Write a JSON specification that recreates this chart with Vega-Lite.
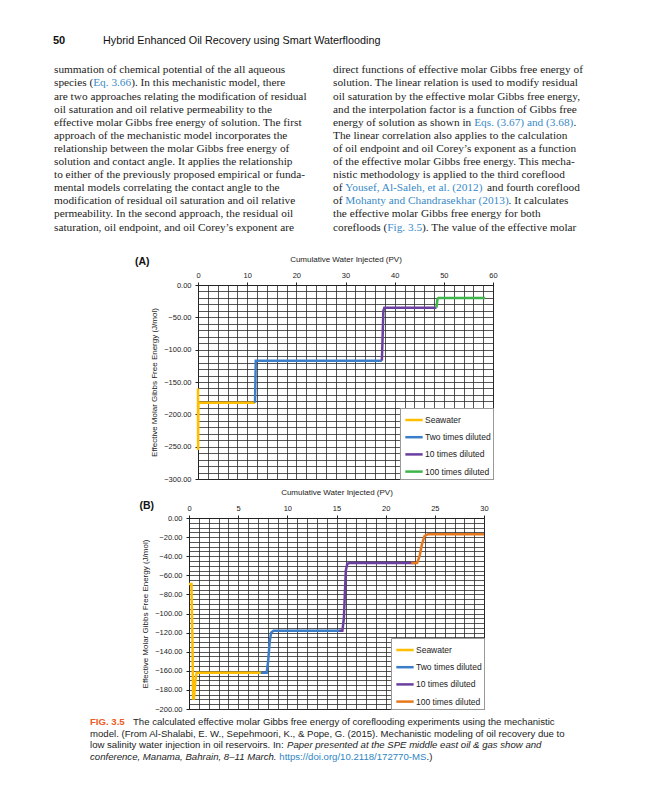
{
"$schema": "https://vega.github.io/schema/vega-lite/v6.json",
"background": "white",
"padding": {"left": 53, "top": 35, "right": 5, "bottom": 5},
"spacing": 4,
"resolve": {"scale": {"color": "independent"}, "legend": {"color": "independent"}},
"config": {
  "view": {"stroke": "#222", "strokeWidth": 1},
  "axis": {"labelFont": "Liberation Sans", "labelFontSize": 7.5, "labelColor": "#222", "titleFont": "Liberation Sans", "titleFontSize": 8, "titleFontWeight": "normal", "titleColor": "#222", "tickColor": "#222", "tickSize": 3, "domainColor": "#222", "gridColor": "#2a2a2a", "gridWidth": 0.8, "gridOpacity": 1, "labelPadding": 3, "titlePadding": 8, "labelFlush": false, "labelOverlap": false},
  "axisY": {"labelPadding": 4, "titlePadding": 5},
  "legend": {"orient": "bottom-right", "offset": 0, "fillColor": "white", "strokeColor": "#999", "padding": 2, "symbolType": "stroke", "symbolSize": 300, "symbolStrokeWidth": 2.5, "symbolOffset": 2, "labelFont": "Liberation Sans", "labelFontSize": 8.5, "labelColor": "#222", "labelOffset": 1, "rowPadding": 2.2},
  "title": {"font": "Liberation Sans", "fontSize": 10.5, "fontWeight": "bold", "color": "#111", "anchor": "start", "frame": "group", "baseline": "bottom", "offset": 0}
},
"vconcat": [
  {
    "width": 1, "height": 209, "view": {"stroke": null},
    "encoding": {
      "x": {"field": "col", "type": "nominal", "scale": {"type": "point", "domain": ["L", "R"], "range": [-135, 144], "padding": 0}, "axis": null},
      "y": {"field": "line", "type": "quantitative", "scale": {"domain": [0, 1, 13], "range": [0, 29.3, 186.5], "nice": false, "zero": false}, "axis": null},
      "text": {"field": "text"}
    },
    "layer": [
      {
        "data": {"values": [{"col": "L", "line": 0, "text": "50"}]},
        "mark": {"type": "text", "align": "left", "baseline": "middle", "font": "Liberation Sans", "fontSize": 11, "fontWeight": "bold", "color": "#111", "dx": -1}
      },
      {
        "data": {"values": [{"col": "L", "line": 0, "text": "Hybrid Enhanced Oil Recovery using Smart Waterflooding"}]},
        "mark": {"type": "text", "align": "left", "baseline": "middle", "font": "Liberation Sans", "fontSize": 10.8, "color": "#111", "dx": 49}
      },
      {
        "data": {"values": [
          {"col": "L", "line": 1, "text": "summation of chemical potential of the all aqueous"},
          {"col": "L", "line": 2, "text": "species ("},
          {"col": "L", "line": 3, "text": "are two approaches relating the modification of residual"},
          {"col": "L", "line": 4, "text": "oil saturation and oil relative permeability to the"},
          {"col": "L", "line": 5, "text": "effective molar Gibbs free energy of solution. The first"},
          {"col": "L", "line": 6, "text": "approach of the mechanistic model incorporates the"},
          {"col": "L", "line": 7, "text": "relationship between the molar Gibbs free energy of"},
          {"col": "L", "line": 8, "text": "solution and contact angle. It applies the relationship"},
          {"col": "L", "line": 9, "text": "to either of the previously proposed empirical or funda-"},
          {"col": "L", "line": 10, "text": "mental models correlating the contact angle to the"},
          {"col": "L", "line": 11, "text": "modification of residual oil saturation and oil relative"},
          {"col": "L", "line": 12, "text": "permeability. In the second approach, the residual oil"},
          {"col": "L", "line": 13, "text": "saturation, oil endpoint, and oil Corey’s exponent are"},
          {"col": "R", "line": 1, "text": "direct functions of effective molar Gibbs free energy of"},
          {"col": "R", "line": 2, "text": "solution. The linear relation is used to modify residual"},
          {"col": "R", "line": 3, "text": "oil saturation by the effective molar Gibbs free energy,"},
          {"col": "R", "line": 4, "text": "and the interpolation factor is a function of Gibbs free"},
          {"col": "R", "line": 5, "text": "energy of solution as shown in"},
          {"col": "R", "line": 6, "text": "The linear correlation also applies to the calculation"},
          {"col": "R", "line": 7, "text": "of oil endpoint and oil Corey’s exponent as a function"},
          {"col": "R", "line": 8, "text": "of the effective molar Gibbs free energy. This mecha-"},
          {"col": "R", "line": 9, "text": "nistic methodology is applied to the third coreflood"},
          {"col": "R", "line": 10, "text": "of"},
          {"col": "R", "line": 11, "text": "of"},
          {"col": "R", "line": 12, "text": "the effective molar Gibbs free energy for both"},
          {"col": "R", "line": 13, "text": "corefloods ("}
        ]},
        "mark": {"type": "text", "align": "left", "baseline": "middle", "font": "Liberation Serif", "fontSize": 11.3, "color": "#222"}
      },
      {
        "data": {"values": [{"col": "L", "line": 2, "text": "). In this mechanistic model, there"}]},
        "mark": {"type": "text", "align": "left", "baseline": "middle", "font": "Liberation Serif", "fontSize": 11.3, "color": "#222", "dx": 77.2}
      },
      {
        "data": {"values": [{"col": "R", "line": 5, "text": "."}]},
        "mark": {"type": "text", "align": "left", "baseline": "middle", "font": "Liberation Serif", "fontSize": 11.3, "color": "#222", "dx": 240.4}
      },
      {
        "data": {"values": [{"col": "R", "line": 10, "text": "and fourth coreflood"}]},
        "mark": {"type": "text", "align": "left", "baseline": "middle", "font": "Liberation Serif", "fontSize": 11.3, "color": "#222", "dx": 154}
      },
      {
        "data": {"values": [{"col": "R", "line": 11, "text": ". It calculates"}]},
        "mark": {"type": "text", "align": "left", "baseline": "middle", "font": "Liberation Serif", "fontSize": 11.3, "color": "#222", "dx": 175.5}
      },
      {
        "data": {"values": [{"col": "R", "line": 13, "text": "). The value of the effective molar"}]},
        "mark": {"type": "text", "align": "left", "baseline": "middle", "font": "Liberation Serif", "fontSize": 11.3, "color": "#222", "dx": 89.1}
      },
      {
        "data": {"values": [{"col": "L", "line": 2, "text": "Eq. 3.66"}]},
        "mark": {"type": "text", "align": "left", "baseline": "middle", "font": "Liberation Serif", "fontSize": 11.3, "color": "#3a8ac6", "dx": 39.2}
      },
      {
        "data": {"values": [{"col": "R", "line": 5, "text": "Eqs. (3.67) and (3.68)"}]},
        "mark": {"type": "text", "align": "left", "baseline": "middle", "font": "Liberation Serif", "fontSize": 11.3, "color": "#3a8ac6", "dx": 141.2}
      },
      {
        "data": {"values": [{"col": "R", "line": 10, "text": "Yousef, Al-Saleh, et al. (2012)"}, {"col": "R", "line": 11, "text": "Mohanty and Chandrasekhar (2013)"}]},
        "mark": {"type": "text", "align": "left", "baseline": "middle", "font": "Liberation Serif", "fontSize": 11.3, "color": "#3a8ac6", "dx": 12.2}
      },
      {
        "data": {"values": [{"col": "R", "line": 13, "text": "Fig. 3.5"}]},
        "mark": {"type": "text", "align": "left", "baseline": "middle", "font": "Liberation Serif", "fontSize": 11.3, "color": "#3a8ac6", "dx": 54.3}
      }
    ]
  },
  {
    "bounds": "flush",
    "spacing": 8,
    "resolve": {"scale": {"color": "independent"}, "legend": {"color": "independent"}},
    "hconcat": [
      {"width": 1, "height": 1, "view": {"stroke": null}, "data": {"values": [{"k": 0}]}, "mark": {"type": "point", "opacity": 0}, "encoding": {}},
      {
        "width": 295, "height": 194,
        "title": {"text": "(A)", "dx": -63, "dy": 16},
        "data": {"values": [
          {"series": "Seawater", "i": 0, "pv": 0, "g": -160},
          {"series": "Seawater", "i": 1, "pv": 0.02, "g": -255},
          {"series": "Seawater", "i": 2, "pv": 0.08, "g": -182},
          {"series": "Seawater", "i": 3, "pv": 11.6, "g": -182},
          {"series": "Two times diluted", "i": 0, "pv": 11.6, "g": -182},
          {"series": "Two times diluted", "i": 1, "pv": 11.75, "g": -117},
          {"series": "Two times diluted", "i": 2, "pv": 37.4, "g": -117},
          {"series": "10 times diluted", "i": 0, "pv": 37.4, "g": -117},
          {"series": "10 times diluted", "i": 1, "pv": 37.55, "g": -80},
          {"series": "10 times diluted", "i": 2, "pv": 37.7, "g": -40},
          {"series": "10 times diluted", "i": 3, "pv": 37.9, "g": -35},
          {"series": "10 times diluted", "i": 4, "pv": 48.5, "g": -35},
          {"series": "100 times diluted", "i": 0, "pv": 48.5, "g": -35},
          {"series": "100 times diluted", "i": 1, "pv": 48.7, "g": -22},
          {"series": "100 times diluted", "i": 2, "pv": 48.9, "g": -20},
          {"series": "100 times diluted", "i": 3, "pv": 58.4, "g": -20}
        ]},
        "mark": {"type": "line", "strokeWidth": 2.5},
        "encoding": {
          "x": {"field": "pv", "type": "quantitative", "scale": {"domain": [0, 60], "nice": false},
            "axis": {"orient": "top", "title": "Cumulative Water Injected (PV)", "values": [0,2,4,6,8,10,12,14,16,18,20,22,24,26,28,30,32,34,36,38,40,42,44,46,48,50,52,54,56,58,60], "labelExpr": "datum.value % 10 === 0 ? datum.label : ''", "tickOpacity": {"condition": {"test": "datum.value % 10 === 0", "value": 1}, "value": 0}}},
          "y": {"field": "g", "type": "quantitative", "scale": {"domain": [-300, 0], "nice": false},
            "axis": {"title": "Effective Molar Gibbs Free Energy (J/mol)", "format": ".2f", "values": [-300,-290,-280,-270,-260,-250,-240,-230,-220,-210,-200,-190,-180,-170,-160,-150,-140,-130,-120,-110,-100,-90,-80,-70,-60,-50,-40,-30,-20,-10,0], "labelExpr": "datum.value % 50 === 0 ? datum.label : ''", "tickOpacity": {"condition": {"test": "datum.value % 50 === 0", "value": 1}, "value": 0}}},
          "color": {"field": "series", "type": "nominal", "scale": {"domain": ["Seawater", "Two times diluted", "10 times diluted", "100 times diluted"], "range": ["#FFBF00", "#3A7DC9", "#6B3FA0", "#3DB54A"]}, "legend": {"title": null}},
          "order": {"field": "i", "type": "quantitative"}
        }
      }
    ]
  },
  {
    "width": 295, "height": 191,
    "title": {"text": "(B)", "dx": -49.5, "dy": 27},
    "data": {"values": [
      {"series": "Seawater", "i": 0, "pv": 0, "g": -69},
      {"series": "Seawater", "i": 1, "pv": 0.25, "g": -69},
      {"series": "Seawater", "i": 2, "pv": 0.35, "g": -130},
      {"series": "Seawater", "i": 3, "pv": 0.42, "g": -189},
      {"series": "Seawater", "i": 4, "pv": 0.5, "g": -189},
      {"series": "Seawater", "i": 5, "pv": 0.65, "g": -170},
      {"series": "Seawater", "i": 6, "pv": 0.78, "g": -162},
      {"series": "Seawater", "i": 7, "pv": 7.4, "g": -162},
      {"series": "Two times diluted", "i": 0, "pv": 7.3, "g": -162},
      {"series": "Two times diluted", "i": 1, "pv": 7.9, "g": -162},
      {"series": "Two times diluted", "i": 2, "pv": 8.05, "g": -150},
      {"series": "Two times diluted", "i": 3, "pv": 8.2, "g": -130},
      {"series": "Two times diluted", "i": 4, "pv": 8.35, "g": -120},
      {"series": "Two times diluted", "i": 5, "pv": 8.6, "g": -118},
      {"series": "Two times diluted", "i": 6, "pv": 15.4, "g": -118},
      {"series": "10 times diluted", "i": 0, "pv": 15.3, "g": -118},
      {"series": "10 times diluted", "i": 1, "pv": 15.6, "g": -118},
      {"series": "10 times diluted", "i": 2, "pv": 15.75, "g": -105},
      {"series": "10 times diluted", "i": 3, "pv": 15.85, "g": -80},
      {"series": "10 times diluted", "i": 4, "pv": 15.95, "g": -55},
      {"series": "10 times diluted", "i": 5, "pv": 16.1, "g": -48},
      {"series": "10 times diluted", "i": 6, "pv": 16.4, "g": -47},
      {"series": "10 times diluted", "i": 7, "pv": 23.0, "g": -47},
      {"series": "100 times diluted", "i": 0, "pv": 22.6, "g": -47},
      {"series": "100 times diluted", "i": 1, "pv": 23.2, "g": -47},
      {"series": "100 times diluted", "i": 2, "pv": 23.45, "g": -40},
      {"series": "100 times diluted", "i": 3, "pv": 23.7, "g": -27},
      {"series": "100 times diluted", "i": 4, "pv": 23.95, "g": -19},
      {"series": "100 times diluted", "i": 5, "pv": 24.3, "g": -17},
      {"series": "100 times diluted", "i": 6, "pv": 30, "g": -17}
    ]},
    "mark": {"type": "line", "strokeWidth": 2.5},
    "encoding": {
      "x": {"field": "pv", "type": "quantitative", "scale": {"domain": [0, 30], "nice": false},
        "axis": {"orient": "top", "title": "Cumulative Water Injected (PV)", "values": [0,1,2,3,4,5,6,7,8,9,10,11,12,13,14,15,16,17,18,19,20,21,22,23,24,25,26,27,28,29,30], "labelExpr": "datum.value % 5 === 0 ? datum.label : ''", "tickOpacity": {"condition": {"test": "datum.value % 5 === 0", "value": 1}, "value": 0}}},
      "y": {"field": "g", "type": "quantitative", "scale": {"domain": [-200, 0], "nice": false},
        "axis": {"title": "Effective Molar Gibbs Free Energy (J/mol)", "format": ".2f", "values": [-200,-195,-190,-185,-180,-175,-170,-165,-160,-155,-150,-145,-140,-135,-130,-125,-120,-115,-110,-105,-100,-95,-90,-85,-80,-75,-70,-65,-60,-55,-50,-45,-40,-35,-30,-25,-20,-15,-10,-5,0], "labelExpr": "datum.value % 20 === 0 ? datum.label : ''", "tickOpacity": {"condition": {"test": "datum.value % 20 === 0", "value": 1}, "value": 0}}},
      "color": {"field": "series", "type": "nominal", "scale": {"domain": ["Seawater", "Two times diluted", "10 times diluted", "100 times diluted"], "range": ["#FFBF00", "#3A7DC9", "#6B3FA0", "#E6781E"]}, "legend": {"title": null}},
      "order": {"field": "i", "type": "quantitative"}
    }
  },
  {
    "width": 1, "height": 44, "view": {"stroke": null},
    "encoding": {
      "x": {"field": "col", "type": "nominal", "scale": {"type": "point", "domain": ["C"], "range": [-99, -99], "padding": 0}, "axis": null},
      "y": {"field": "line", "type": "quantitative", "scale": {"domain": [1, 4], "range": [5, 40.1], "nice": false, "zero": false}, "axis": null},
      "text": {"field": "text"}
    },
    "layer": [
      {
        "data": {"values": [{"col": "C", "line": 1, "text": "FIG. 3.5"}]},
        "mark": {"type": "text", "align": "left", "baseline": "middle", "font": "Liberation Sans", "fontSize": 9.6, "fontWeight": "bold", "color": "#EE5A24"}
      },
      {
        "data": {"values": [{"col": "C", "line": 1, "text": "The calculated effective molar Gibbs free energy of coreflooding experiments using the mechanistic"}]},
        "mark": {"type": "text", "align": "left", "baseline": "middle", "font": "Liberation Sans", "fontSize": 9.6, "color": "#222", "dx": 43}
      },
      {
        "data": {"values": [
          {"col": "C", "line": 2, "text": "model. (From Al-Shalabi, E. W., Sepehmoori, K., & Pope, G. (2015). Mechanistic modeling of oil recovery due to"},
          {"col": "C", "line": 3, "text": "low salinity water injection in oil reservoirs. In:"}
        ]},
        "mark": {"type": "text", "align": "left", "baseline": "middle", "font": "Liberation Sans", "fontSize": 9.6, "color": "#222"}
      },
      {
        "data": {"values": [{"col": "C", "line": 3, "text": "Paper presented at the SPE middle east oil & gas show and"}]},
        "mark": {"type": "text", "align": "left", "baseline": "middle", "font": "Liberation Sans", "fontSize": 9.6, "fontStyle": "italic", "color": "#222", "dx": 197}
      },
      {
        "data": {"values": [{"col": "C", "line": 4, "text": "conference, Manama, Bahrain, 8–11 March."}]},
        "mark": {"type": "text", "align": "left", "baseline": "middle", "font": "Liberation Sans", "fontSize": 9.6, "fontStyle": "italic", "color": "#222"}
      },
      {
        "data": {"values": [{"col": "C", "line": 4, "text": "https://doi.org/10.2118/172770-MS"}]},
        "mark": {"type": "text", "align": "left", "baseline": "middle", "font": "Liberation Sans", "fontSize": 9.6, "color": "#2F86C4", "dx": 189.3}
      },
      {
        "data": {"values": [{"col": "C", "line": 4, "text": ".)"}]},
        "mark": {"type": "text", "align": "left", "baseline": "middle", "font": "Liberation Sans", "fontSize": 9.6, "color": "#222", "dx": 336.5}
      }
    ]
  }
]
}
